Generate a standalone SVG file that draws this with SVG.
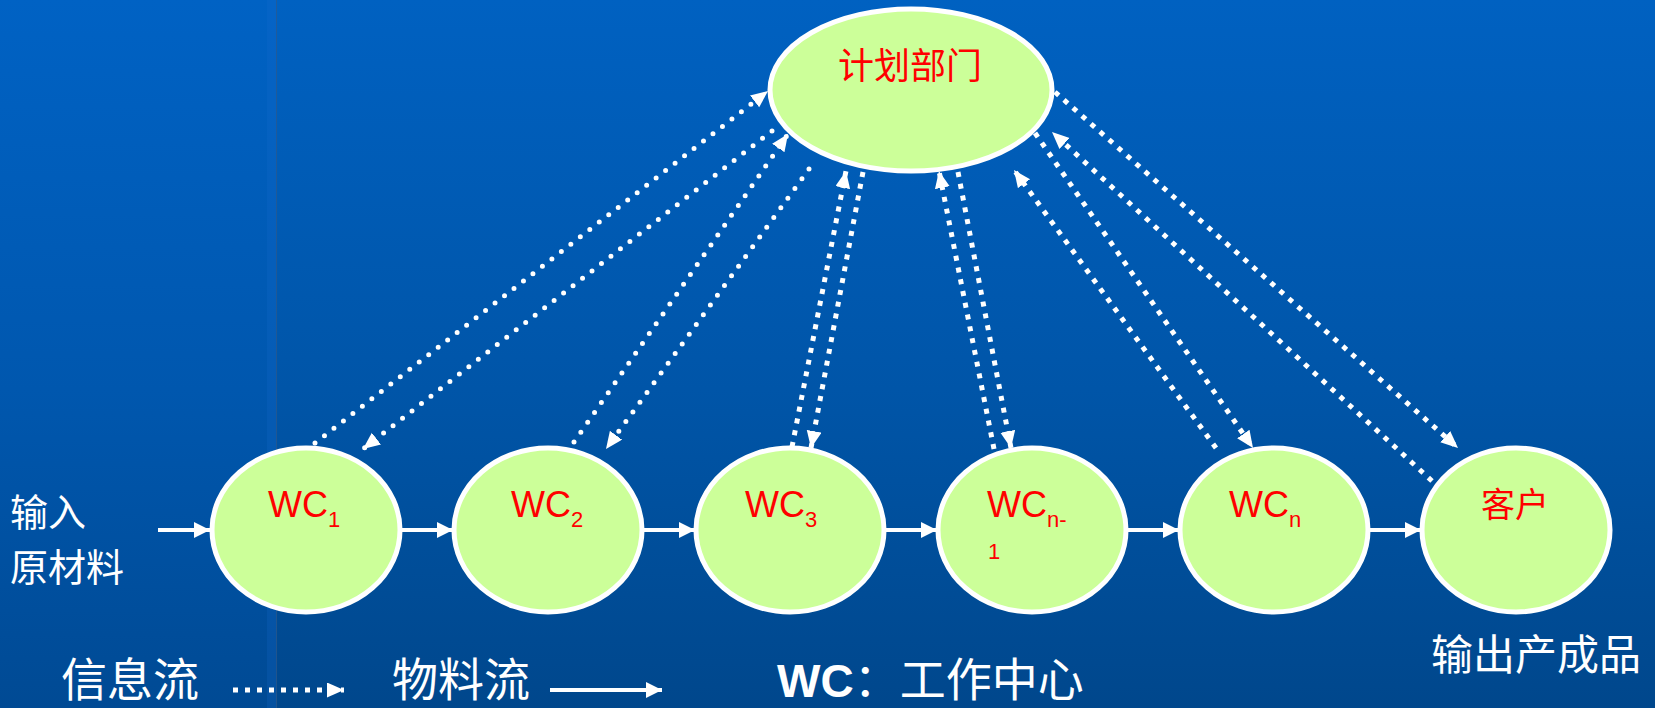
<svg xmlns="http://www.w3.org/2000/svg" width="1655" height="708" viewBox="0 0 1655 708">
  <defs>
    <linearGradient id="bg" x1="0" y1="0" x2="0" y2="1">
      <stop offset="0" stop-color="#0061C1"/>
      <stop offset="0.55" stop-color="#0055A8"/>
      <stop offset="1" stop-color="#00478C"/>
    </linearGradient>
    <linearGradient id="bgL" x1="0" y1="0" x2="0" y2="1">
      <stop offset="0" stop-color="#0062C4"/>
      <stop offset="0.55" stop-color="#0057AE"/>
      <stop offset="1" stop-color="#004A94"/>
    </linearGradient>
    <marker id="ah" markerUnits="userSpaceOnUse" markerWidth="18" markerHeight="18" refX="16" refY="8" orient="auto">
      <path d="M0,0 L16,8 L0,16 Z" fill="#FFFFFF"/>
    </marker>
    <marker id="ahd" markerUnits="userSpaceOnUse" markerWidth="18" markerHeight="16" refX="17" refY="7.5" orient="auto">
      <path d="M0,0 L17,7.5 L0,15 Z" fill="#FFFFFF"/>
    </marker>
  </defs>
  <style>
    .node { fill: #CCFF99; stroke: #FFFFFF; stroke-width: 5; }
    .wc { font-family: "Liberation Sans", Arial, sans-serif; font-size: 36px; fill: #FF0000; }
    .sub { font-size: 22px; }
    .cjkred { font-family: "Noto Sans CJK SC", sans-serif; fill: #FF0000; }
    .lbl { font-family: "Noto Sans CJK SC", sans-serif; fill: #FFFFFF; }
    .flow { stroke: #FFFFFF; stroke-width: 4; fill: none; marker-end: url(#ah); }
    .round { stroke: #FFFFFF; stroke-width: 5; fill: none; stroke-linecap: round; stroke-dasharray: 0 12; marker-end: url(#ahd); }
    .sq { stroke: #FFFFFF; stroke-width: 5; fill: none; stroke-dasharray: 5 7; marker-end: url(#ahd); }
  </style>

  <rect x="0" y="0" width="1655" height="708" fill="url(#bg)"/>
  <rect x="0" y="0" width="276" height="708" fill="url(#bgL)"/>
  <rect x="267" y="0" width="9" height="708" fill="#1A6FD0" opacity="0.2"/>
  <line x1="276.5" y1="0" x2="276.5" y2="708" stroke="#2E5A8C" stroke-width="1" opacity="0.7"/>

  <g id="connectors">
    <!-- material flow -->
    <line class="flow" x1="158" y1="530" x2="210" y2="530"/>
    <line class="flow" x1="401" y1="530" x2="453" y2="530"/>
    <line class="flow" x1="643" y1="530" x2="695" y2="530"/>
    <line class="flow" x1="885" y1="530" x2="937" y2="530"/>
    <line class="flow" x1="1127" y1="530" x2="1179" y2="530"/>
    <line class="flow" x1="1369" y1="530" x2="1421" y2="530"/>
    <!-- information flow -->
    <line class="round" x1="315" y1="443" x2="768" y2="91"/>
    <line class="round" x1="772" y1="131" x2="363" y2="449"/>
    <line class="round" x1="574" y1="442" x2="788" y2="134"/>
    <line class="round" x1="809" y1="169" x2="606" y2="449"/>
    <line class="sq" x1="792" y1="447" x2="846" y2="171"/>
    <line class="sq" x1="863" y1="172" x2="811" y2="448"/>
    <line class="sq" x1="994" y1="449" x2="939" y2="171"/>
    <line class="sq" x1="958" y1="172" x2="1011" y2="448"/>
    <line class="sq" x1="1216" y1="448" x2="1014" y2="170"/>
    <line class="sq" x1="1035" y1="133" x2="1253" y2="448"/>
    <line class="sq" x1="1055" y1="92" x2="1458" y2="448"/>
    <line class="sq" x1="1432" y1="481" x2="1052" y2="132"/>
  </g>

  <g id="plan">
    <ellipse class="node" cx="911" cy="90" rx="141" ry="81"/>
    <text class="cjkred" x="910" y="79" font-size="36" text-anchor="middle">计划部门</text>
  </g>
  <g id="wc1">
    <ellipse class="node" cx="306" cy="530" rx="94" ry="82"/>
    <text class="wc" x="268" y="517">WC<tspan class="sub" dy="10">1</tspan></text>
  </g>
  <g id="wc2">
    <ellipse class="node" cx="548" cy="530" rx="94" ry="82"/>
    <text class="wc" x="511" y="517">WC<tspan class="sub" dy="10">2</tspan></text>
  </g>
  <g id="wc3">
    <ellipse class="node" cx="790" cy="530" rx="94" ry="82"/>
    <text class="wc" x="745" y="517">WC<tspan class="sub" dy="10">3</tspan></text>
  </g>
  <g id="wcn-1">
    <ellipse class="node" cx="1032" cy="530" rx="94" ry="82"/>
    <text class="wc" x="987" y="517">WC<tspan class="sub" dy="10">n-</tspan></text>
    <text class="wc sub" x="988" y="559">1</text>
  </g>
  <g id="wcn">
    <ellipse class="node" cx="1274" cy="530" rx="94" ry="82"/>
    <text class="wc" x="1229" y="517">WC<tspan class="sub" dy="10">n</tspan></text>
  </g>
  <g id="customer">
    <ellipse class="node" cx="1516" cy="530" rx="94" ry="82"/>
    <text class="cjkred" x="1515" y="517" font-size="34" text-anchor="middle">客户</text>
  </g>

  <g id="labels">
    <text class="lbl" x="10" y="526" font-size="38">输入</text>
    <text class="lbl" x="10" y="581" font-size="38">原材料</text>
    <text class="lbl" x="1431" y="670" font-size="42">输出产成品</text>
  </g>

  <g id="legend">
    <text class="lbl" x="61" y="696" font-size="46">信息流</text>
    <line x1="233" y1="690" x2="344" y2="690" stroke="#FFFFFF" stroke-width="5" stroke-dasharray="5 7" marker-end="url(#ahd)"/>
    <text class="lbl" x="392" y="696" font-size="46">物料流</text>
    <line class="flow" x1="550" y1="690" x2="662" y2="690"/>
    <text x="777" y="697" fill="#FFFFFF" font-family="Liberation Sans, Arial, sans-serif" font-weight="bold" font-size="46">WC<tspan font-family="Noto Sans CJK SC, sans-serif" font-weight="normal" dy="-1">：工作中心</tspan></text>
  </g>
</svg>
